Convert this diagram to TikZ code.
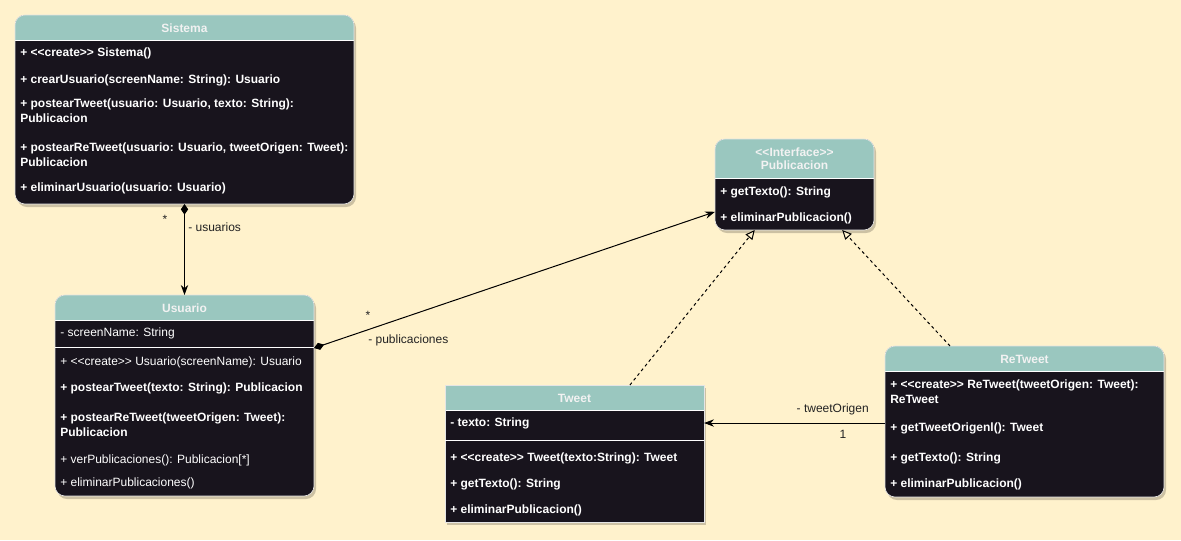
\documentclass[tikz,border=0pt]{standalone}
\usepackage{fontspec}
\setmainfont{Liberation Sans}[Ligatures=TeXOff]
\usetikzlibrary{arrows.meta,calc,fit}
\definecolor{bg}{HTML}{FFF2CC}
\definecolor{hdr}{HTML}{9AC7BF}
\definecolor{bodyc}{HTML}{18141D}
\definecolor{hdrtxt}{HTML}{F2F2F2}
\definecolor{lbl}{HTML}{222222}
\tikzset{
  boxfit/.style={inner sep=0pt, outer sep=0pt, draw=none},
  row/.style={anchor=west, inner sep=0pt, text=white, font=\fontsize{9}{11.3}\selectfont\bfseries, align=left},
  rowreg/.style={anchor=west, inner sep=0pt, text=white, font=\fontsize{9}{11.3}\selectfont, align=left},
  head/.style={inner sep=0pt, text=hdrtxt, font=\fontsize{9}{10}\selectfont\bfseries, align=center},
  elabel/.style={inner sep=0pt, text=lbl, font=\fontsize{9}{10}\selectfont},
  assoc/.style={draw=black, line width=0.75pt, -{Stealth[length=7.5pt,width=5.5pt]}},
  comp/.style={draw=black, line width=0.75pt, {Diamond[length=8pt,width=5.5pt]}-{Stealth[length=7.5pt,width=5.5pt]}},
  real/.style={draw=black, line width=0.75pt, dash pattern=on 2.25pt off 2.25pt, -{Triangle[open,length=7pt,width=6.5pt,fill=bg]}},
}
\newcommand\drawumlclass[7]{%
  \fill[black, opacity=0.2, rounded corners=#7] (#2+2,#3+3) rectangle (#4+2,#5+3);
  \begin{scope}
    \clip[rounded corners=#7] (#2,#3) rectangle (#4,#5);
    \fill[bodyc] (#2,#3) rectangle (#4,#5);
    \fill[hdr] (#2,#3) rectangle (#4,#6);
    \draw[white, line width=0.75pt] (#2,#6) -- (#4,#6);
  \end{scope}
  \draw[white!80!gray, line width=0.5pt, rounded corners=#7] (#2,#3) rectangle (#4,#5);
  \node[boxfit, fit={(#2,#3)(#4,#5)}] (#1) {};
}
\begin{document}
\begin{tikzpicture}[x=0.75pt,y=-0.75pt]
\useasboundingbox (0,0) rectangle (1181,540);
\fill[bg] (0,0) rectangle (1181,540);

% Sistema
\drawumlclass{sis}{15}{15}{354}{204}{40}{7.5pt}
\node[head] (sish) at (184.5,28) {Sistema};
\node[row] (sis1) at (20,53) {+ <<create>> Sistema()};
\node[row] (sis2) at (20,80) {+ crearUsuario(screenName: String): Usuario};
\node[row] (sis3) at (20,111) {+ postearTweet(usuario: Usuario, texto: String):\\Publicacion};
\node[row] (sis4) at (20,154.5) {+ postearReTweet(usuario: Usuario, tweetOrigen: Tweet):\\Publicacion};
\node[row] (sis5) at (20,188) {+ eliminarUsuario(usuario: Usuario)};

% Usuario
\drawumlclass{usu}{55}{295}{314}{496}{320}{7.5pt}
\draw[white, line width=0.75pt] (55,347) -- (314,347);
\node[head] (usuh) at (184.5,308) {Usuario};
\node[rowreg] (usu1) at (60,333) {- screenName: String};
\node[rowreg] (usu2) at (60,362) {+ <<create>> Usuario(screenName): Usuario};
\node[row] (usu3) at (60,388) {+ postearTweet(texto: String): Publicacion};
\node[row] (usu4) at (60,425) {+ postearReTweet(tweetOrigen: Tweet):\\Publicacion};
\node[rowreg] (usu5) at (60,460) {+ verPublicaciones(): Publicacion[*]};
\node[rowreg] (usu6) at (60,483) {+ eliminarPublicaciones()};

% Publicacion
\drawumlclass{pub}{715}{139}{874}{230}{178}{7.5pt}
\node[head] (pubh) at (794.5,158.5) {<<Interface>>\\Publicacion};
\node[row] (pub1) at (720,192) {+ getTexto(): String};
\node[row] (pub2) at (720,218) {+ eliminarPublicacion()};

% Tweet
\drawumlclass{twt}{445}{385}{704}{522}{410}{0pt}
\draw[white, line width=0.75pt] (445,440) -- (704,440);
\node[head] (twth) at (574.5,398) {Tweet};
\node[row] (twt1) at (450,423) {- texto: String};
\node[row] (twt2) at (450,458) {+ <<create>> Tweet(texto:String): Tweet};
\node[row] (twt3) at (450,484) {+ getTexto(): String};
\node[row] (twt4) at (450,510) {+ eliminarPublicacion()};

% ReTweet
\drawumlclass{rtw}{885}{346}{1164}{497}{371}{7.5pt}
\node[head] (rtwh) at (1024.5,359) {ReTweet};
\node[row] (rtw1) at (890,391.5) {+ <<create>> ReTweet(tweetOrigen: Tweet):\\ReTweet};
\node[row] (rtw2) at (890,428) {+ getTweetOrigenl(): Tweet};
\node[row] (rtw3) at (890,458) {+ getTexto(): String};
\node[row] (rtw4) at (890,484) {+ eliminarPublicacion()};

% connectors
\draw[comp] (sis.south) -- (usu.north);
\node[elabel] (l1) at (165,219) {*};
\node[elabel, anchor=west] (l2) at (188,227) {- usuarios};

\coordinate (ur) at ($(usu.north east)!0.264!(usu.south east)$);
\coordinate (pl) at ($(pub.north west)!0.80!(pub.south west)$);
\draw[comp] (ur) -- (pl);
\node[elabel] (l3) at (368,315) {*};
\node[elabel, anchor=west] (l4) at (368,340) {- publicaciones};

\coordinate (tt) at ($(twt.north west)!0.714!(twt.north east)$);
\coordinate (pb1) at ($(pub.south west)!0.25!(pub.south east)$);
\draw[real] (tt) -- (pb1);

\coordinate (rt) at ($(rtw.north west)!0.233!(rtw.north east)$);
\coordinate (pb2) at ($(pub.south west)!0.80!(pub.south east)$);
\draw[real] (rt) -- (pb2);

\coordinate (rtl) at ($(rtw.north west)!0.51!(rtw.south west)$);
\draw[assoc] (rtl) -- (rtl -| twt.east);
\node[elabel, anchor=east] (l5) at (869,409) {- tweetOrigen};
\node[elabel] (l6) at (843,434) {1};
\end{tikzpicture}
\end{document}
